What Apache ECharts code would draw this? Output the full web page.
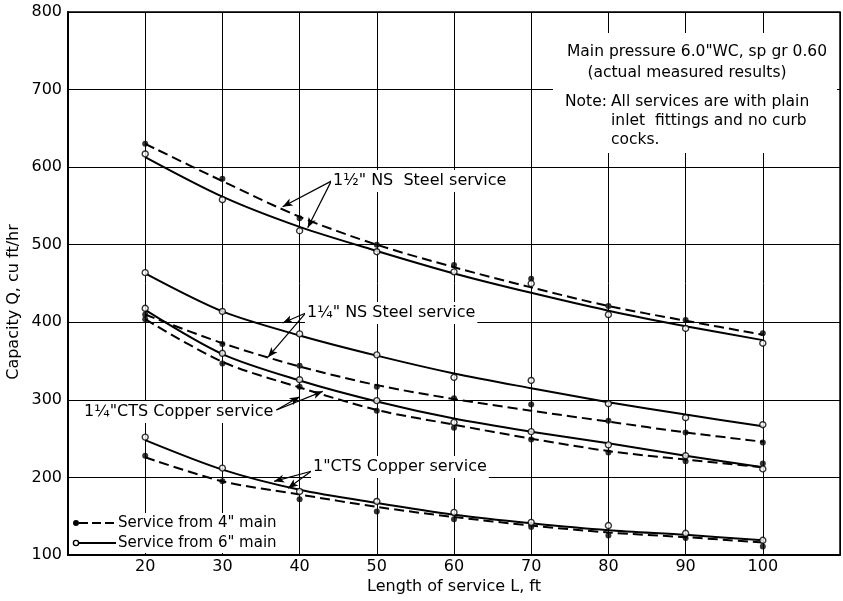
<!DOCTYPE html>
<html>
<head>
<meta charset="utf-8">
<script src="https://cdn.jsdelivr.net/npm/echarts@6/dist/echarts.min.js"></script>
<style>html,body{margin:0;padding:0;background:#fff}#c{width:843px;height:601px}</style>
</head>
<body>
<div id="c"></div>
<script>
// Service lengths (ft)
const lengths = [20, 30, 40, 50, 60, 70, 80, 90, 100];
const xTicks = [20, 30, 40, 50, 60, 70, 80, 90, 100];
const yTicks = [100, 200, 300, 400, 500, 600, 700, 800];

// 1 1/2" NS Steel service
const steel150_4_pts = [630, 585, 534, 500, 474, 456, 421, 403, 386];
const steel150_6_pts = [617, 558, 518, 491, 465, 450, 410, 392, 373];
const steel150_4_fit = [630, 582, 536, 500, 471, 445, 421, 402, 384];
const steel150_6_fit = [613, 562, 523, 492, 463, 438, 415, 395, 377];

// 1 1/4" NS Steel service
const steel125_4_pts = [410, 372, 344, 317, 302, 294, 273, 258, 245];
const steel125_6_pts = [464, 414, 385, 358, 329, 325, 295, 277, 268];
const steel125_4_fit = [410, 373, 343, 319, 301, 286, 272, 258, 246];
const steel125_6_fit = [463, 414, 383, 357, 334, 315, 297, 281, 266];

// 1 1/4" CTS Copper service
const cts125_4_pts = [404, 347, 317, 286, 264, 249, 232, 221, 218];
const cts125_6_pts = [418, 360, 326, 299, 271, 259, 242, 228, 211];
const cts125_4_fit = [404, 349, 316, 287, 268, 250, 234, 223, 213];
const cts125_6_fit = [416, 359, 325, 298, 276, 259, 244, 228, 213];

// 1" CTS Copper service
const cts100_4_pts = [228, 195, 172, 156, 146, 136, 125, 122, 111];
const cts100_6_pts = [252, 212, 182, 169, 155, 142, 138, 128, 119];
const cts100_4_fit = [226, 195, 178, 162, 149, 138, 129, 123, 116];
const cts100_6_fit = [248, 210, 184, 167, 152, 141, 132, 126, 119];

const FONT = 'DejaVu Sans';
const pair = arr => lengths.map((L, i) => [L, arr[i]]);

function curve(name, arr, dashed, extra) {
  return Object.assign({
    name: name, type: 'line', data: pair(arr), smooth: 0.3,
    showSymbol: false, symbol: 'none', silent: true, z: 3,
    lineStyle: { color: '#000', width: 2, type: dashed ? [10, 5] : 'solid' }
  }, extra || {});
}

const arrows = [
  [[44.1, 582], [37.8, 549]],
  [[44.1, 582], [41.05, 522]],
  [[40.8, 412], [37.8, 399]],
  [[40.8, 412], [35.9, 355]],
  [[37.0, 287], [40.0, 304]],
  [[37.0, 287], [43.0, 311]],
  [[41.5, 208], [36.7, 195]],
  [[41.5, 208], [38.5, 186]]
];

const filledPts = [].concat(pair(steel150_4_pts), pair(steel125_4_pts), pair(cts125_4_pts), pair(cts100_4_pts));
const openPts = [].concat(pair(steel150_6_pts), pair(steel125_6_pts), pair(cts125_6_pts), pair(cts100_6_pts));

const labelStyle = (txt, x, y) => ({
  type: 'text', z: 50, x: x, y: y,
  style: { text: txt, font: '16px "' + FONT + '"', fill: '#000', verticalAlign: 'middle',
           backgroundColor: '#fff', padding: [3, 2, 3, 2] }
});
const noteFont = '15.5px "' + FONT + '"';

const chart = echarts.init(document.getElementById('c'), null, { renderer: 'canvas' });
chart.setOption({
  animation: false,
  backgroundColor: '#fff',
  grid: { left: 68, right: 3, top: 12, bottom: 46, show: true, borderColor: '#000', borderWidth: 1.5, backgroundColor: 'transparent' },
  xAxis: {
    type: 'value', min: 10, max: 110, interval: 10,
    axisLine: { show: true, lineStyle: { color: '#000', width: 2 } },
    axisTick: { show: false },
    axisLabel: { color: '#000', fontFamily: FONT, fontSize: 16, margin: 4,
      formatter: v => xTicks.indexOf(v) >= 0 ? String(v) : '' },
    splitLine: { show: true, lineStyle: { color: '#000', width: 1 } }
  },
  yAxis: {
    type: 'value', min: 100, max: 800, interval: 100,
    axisLine: { show: true, lineStyle: { color: '#000', width: 2 } },
    axisTick: { show: false },
    axisLabel: { color: '#000', fontFamily: FONT, fontSize: 16, margin: 6,
      formatter: v => yTicks.indexOf(v) >= 0 ? String(v) : '' },
    splitLine: { show: true, lineStyle: { color: '#000', width: 1 } }
  },
  series: [
    curve('1 1/2 NS 4in', steel150_4_fit, true, {
      markLine: {
        silent: true, symbol: ['none', 'arrow'], symbolSize: [6, 10],
        lineStyle: { color: '#000', width: 1.2, type: 'solid' },
        label: { show: false },
        data: arrows.map(a => [{ coord: a[0] }, { coord: a[1] }])
      }
    }),
    curve('1 1/2 NS 6in', steel150_6_fit, false),
    curve('1 1/4 NS 4in', steel125_4_fit, true),
    curve('1 1/4 NS 6in', steel125_6_fit, false),
    curve('1 1/4 CTS 4in', cts125_4_fit, true),
    curve('1 1/4 CTS 6in', cts125_6_fit, false),
    curve('1 CTS 4in', cts100_4_fit, true),
    curve('1 CTS 6in', cts100_6_fit, false),
    { name: 'Service from 4" main', type: 'scatter', data: filledPts, symbol: 'circle', symbolSize: 6, z: 5,
      itemStyle: { color: '#000' } },
    { name: 'Service from 6" main', type: 'scatter', data: openPts, symbol: 'circle', symbolSize: 6, z: 6,
      itemStyle: { color: '#fff', borderColor: '#000', borderWidth: 1.4 } }
  ],
  graphic: [
    { type: 'rect', z: 40, shape: { x: 553, y: 33, width: 284, height: 120 }, style: { fill: '#fff' } },
    { type: 'text', z: 50, x: 697, y: 52, style: { text: 'Main pressure 6.0"WC, sp gr 0.60', font: noteFont, fill: '#000', align: 'center', verticalAlign: 'middle' } },
    { type: 'text', z: 50, x: 687, y: 73, style: { text: '(actual measured results)', font: noteFont, fill: '#000', align: 'center', verticalAlign: 'middle' } },
    { type: 'text', z: 50, x: 565, y: 102, style: { text: 'Note:', font: noteFont, fill: '#000', verticalAlign: 'middle' } },
    { type: 'text', z: 50, x: 611, y: 102, style: { text: 'All services are with plain', font: noteFont, fill: '#000', verticalAlign: 'middle' } },
    { type: 'text', z: 50, x: 611, y: 121, style: { text: 'inlet  fittings and no curb', font: noteFont, fill: '#000', verticalAlign: 'middle' } },
    { type: 'text', z: 50, x: 611, y: 140, style: { text: 'cocks.', font: noteFont, fill: '#000', verticalAlign: 'middle' } },
    labelStyle('1½" NS  Steel service', 331, 181),
    labelStyle('1¼" NS Steel service', 305, 313),
    labelStyle('1¼"CTS Copper service', 82, 412),
    labelStyle('1"CTS Copper service', 311, 467),
    // legend
    { type: 'rect', z: 40, shape: { x: 72, y: 513, width: 210, height: 40 }, style: { fill: '#fff' } },
    { type: 'circle', z: 50, shape: { cx: 76, cy: 523, r: 3 }, style: { fill: '#000' } },
    { type: 'line', z: 50, shape: { x1: 79, y1: 523, x2: 116, y2: 523 }, style: { stroke: '#000', lineWidth: 2, lineDash: [9, 4] } },
    { type: 'text', z: 50, x: 118, y: 523, style: { text: 'Service from 4" main', font: '15px "' + FONT + '"', fill: '#000', verticalAlign: 'middle' } },
    { type: 'circle', z: 50, shape: { cx: 76, cy: 543, r: 2.6 }, style: { fill: '#fff', stroke: '#000', lineWidth: 1.4 } },
    { type: 'line', z: 50, shape: { x1: 79, y1: 543, x2: 116, y2: 543 }, style: { stroke: '#000', lineWidth: 2 } },
    { type: 'text', z: 50, x: 118, y: 543, style: { text: 'Service from 6" main', font: '15px "' + FONT + '"', fill: '#000', verticalAlign: 'middle' } },
    // axis names
    { type: 'text', z: 50, x: 454, y: 587, style: { text: 'Length of service L, ft', font: '16px "' + FONT + '"', fill: '#000', align: 'center', verticalAlign: 'middle' } },
    { type: 'text', z: 50, x: 14, y: 302, rotation: Math.PI / 2, style: { text: 'Capacity Q, cu ft/hr', font: '16px "' + FONT + '"', fill: '#000', align: 'center', verticalAlign: 'middle' } }
  ]
});
</script>
</body>
</html>
